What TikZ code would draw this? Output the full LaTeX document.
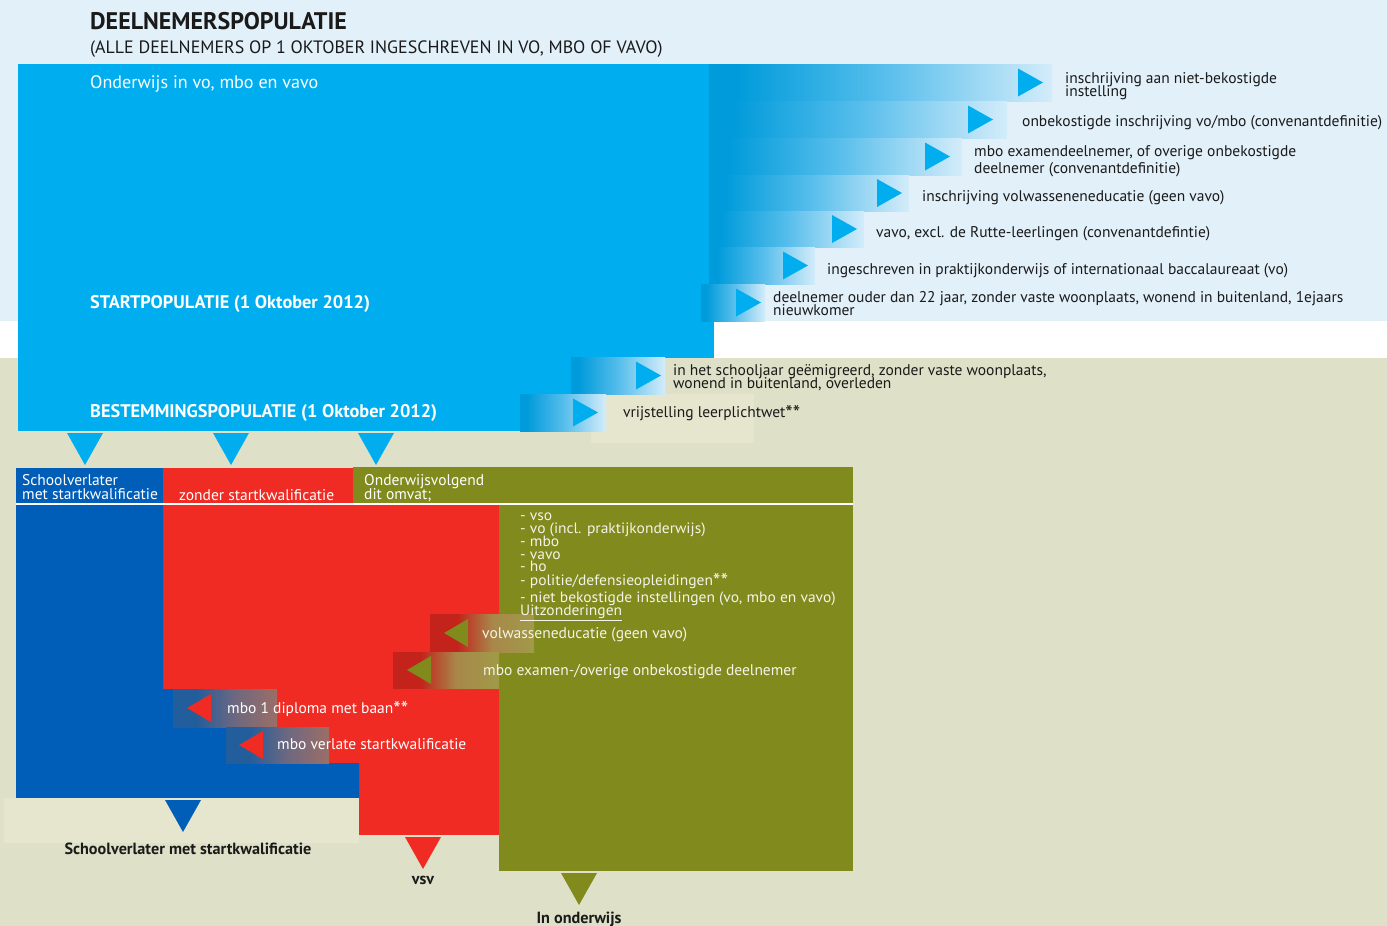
\documentclass[tikz,border=0pt]{standalone}
\usepackage{fontspec}
\setmainfont{PT Sans}
\newfontfamily\listfont{PT Sans}[FakeStretch=1.035]
\definecolor{topbg}{HTML}{E2F0FA}
\definecolor{botbg}{HTML}{DEE1C7}
\definecolor{cyanb}{HTML}{00AEEF}
\definecolor{bandL}{HTML}{009BDB}
\definecolor{bandM}{HTML}{55BDEB}
\definecolor{bandR}{HTML}{D3ECFA}
\definecolor{dblue}{HTML}{005EB8}
\definecolor{redc}{HTML}{EF2B24}
\definecolor{olivec}{HTML}{808A1D}
\definecolor{beigec}{HTML}{E6E6CF}
\definecolor{dkred}{HTML}{C3231B}
\definecolor{tanM}{HTML}{A8884A}
\definecolor{tanR}{HTML}{A09A48}
\definecolor{dkblue}{HTML}{225D9C}
\definecolor{brM}{HTML}{6E6880}
\definecolor{brR}{HTML}{9C6E66}
\definecolor{listtxt}{HTML}{F4F4E8}
\definecolor{ink}{HTML}{1A1A1A}
\pgfdeclarehorizontalshading{bluefade}{100bp}{color(0bp)=(bandL); color(25bp)=(bandL); color(29bp)=(bandL); color(50bp)=(bandM); color(75bp)=(bandR); color(100bp)=(bandR)}
\pgfdeclarehorizontalshading{redfade}{100bp}{color(0bp)=(dkred); color(25bp)=(dkred); color(38bp)=(dkred); color(55bp)=(tanM); color(75bp)=(tanR); color(100bp)=(tanR)}
\pgfdeclarehorizontalshading{bluebrown}{100bp}{color(0bp)=(dkblue); color(25bp)=(dkblue); color(36bp)=(dkblue); color(55bp)=(brM); color(75bp)=(brR); color(100bp)=(brR)}
\newcommand{\bandbox}[5]{%
  \fill[shading=bluefade] (#1,#2) rectangle (#3,#4);
  \fill[cyanb] (#5,{(#2+#4)/2-14}) -- ({#5+25},{(#2+#4)/2}) -- (#5,{(#2+#4)/2+14}) -- cycle;}
\newcommand{\leftbox}[7]{%
  \fill[shading=#6] (#1,#2) rectangle (#3,#4);
  \fill[#7] (#5,{(#2+#4)/2}) -- ({#5+24},{(#2+#4)/2-14}) -- ({#5+24},{(#2+#4)/2+14}) -- cycle;}
\newcommand{\downtri}[3]{\fill[#3] ({#1-18},#2) -- ({#1+18},#2) -- (#1,{#2+32}) -- cycle;}
\newcommand{\stars}{\smash{\raisebox{-0.45ex}{\fontsize{21}{21}\selectfont **}}}
\begin{document}
\begin{tikzpicture}[x=1pt,y=-1pt,
  txt/.style={anchor=base west, inner sep=0pt, text=ink, font=\fontsize{15.5}{16}\selectfont},
  wtxt/.style={txt, text=white},
  ltxt/.style={txt, text=listtxt},
  lst/.style={anchor=base west, inner sep=0pt, text=listtxt, font=\listfont\fontsize{15}{15}\selectfont},
  hd/.style={anchor=base west, inner sep=0pt, text=white, font=\fontsize{18.3}{19}\bfseries\selectfont},
  bt/.style={anchor=base, inner sep=0pt, text=ink, font=\fontsize{16.2}{17}\bfseries\selectfont}]
\useasboundingbox (0,0) rectangle (1387,926);
% backgrounds
\fill[topbg] (0,0) rectangle (1387,321);
\fill[white] (0,321) rectangle (1387,358);
\fill[botbg] (0,358) rectangle (1387,926);
% main population box
\fill[cyanb] (18,64) rectangle (714,358);
\fill[cyanb] (18,358) rectangle (571,431);
% outflow bands
\bandbox{709}{64}{1052}{101}{1018}
\bandbox{709}{101}{1007}{138}{968}
\bandbox{709}{138}{962}{175}{925}
\bandbox{709}{175}{909}{211}{877}
\bandbox{709}{211}{864}{247}{832}
\bandbox{709}{247}{815}{284}{783}
\bandbox{701}{284}{765}{321}{736}
\fill[beigec] (591,394) rectangle (754,443);
\bandbox{571}{357}{665}{394}{636}
\bandbox{520}{394}{606}{431}{573}
% down arrows
\downtri{85}{433}{cyanb}
\downtri{231}{433}{cyanb}
\downtri{376}{433}{cyanb}
% columns
\fill[dblue] (16,468) rectangle (163,504);
\fill[redc] (163,468) rectangle (353,504);
\fill[olivec] (353,467) rectangle (853,504);
\fill[olivec] (499,504) rectangle (853,871);
\fill[redc] (163,504) rectangle (499,835);
\fill[dblue] (16,504) -- (163,504) -- (163,689) -- (173,689) -- (173,727) -- (226,727) -- (226,763) -- (359,763) -- (359,798) -- (16,798) -- cycle;
\draw[white, line width=1.5pt] (16,504) -- (853,504);
\fill[beigec] (4,798) rectangle (359,843);
% inflow/outflow arrows inside columns
\leftbox{430}{614}{534}{652}{444}{redfade}{olivec}
\leftbox{393}{652}{499}{688}{407}{redfade}{olivec}
\leftbox{173}{689}{277}{727}{187}{bluebrown}{redc}
\leftbox{226}{727}{329}{763}{239}{bluebrown}{redc}
% bottom arrows
\downtri{183}{800}{dblue}
\downtri{423}{837}{redc}
\downtri{579}{873}{olivec}
% texts top
\node[anchor=base west, inner sep=0pt, text=ink, font=\fontsize{24}{25}\bfseries\selectfont] (title) at (90,29) {DEELNEMERSPOPULATIE};
\node[anchor=base west, inner sep=0pt, text=ink, font=\fontsize{17.9}{18}\selectfont] (subtitle) at (90,53) {(ALLE DEELNEMERS OP 1 OKTOBER INGESCHREVEN IN VO, MBO OF VAVO)};
\node[anchor=base west, inner sep=0pt, text=white, font=\fontsize{18.1}{19}\selectfont] (ond) at (90,88) {Onderwijs in vo, mbo en vavo};
\node[hd] (start) at (90,308) {STARTPOPULATIE (1 Oktober 2012)};
\node[hd] (best) at (90,417) {BESTEMMINGSPOPULATIE (1 Oktober 2012)};
% band labels
\node[txt] (b1a) at (1065,83) {inschrijving aan niet-bekostigde};
\node[txt] (b1b) at (1065,96) {instelling};
\node[txt] (b2) at (1022,126) {onbekostigde inschrijving vo/mbo (convenantdefinitie)};
\node[txt] (b3a) at (974,156) {mbo examendeelnemer, of overige onbekostigde};
\node[txt] (b3b) at (974,173) {deelnemer (convenantdefinitie)};
\node[txt] (b4) at (922,201) {inschrijving volwasseneneducatie (geen vavo)};
\node[txt] (b5) at (876,237) {vavo, excl. de Rutte-leerlingen (convenantdefintie)};
\node[txt] (b6) at (827,274) {ingeschreven in praktijkonderwijs of internationaal baccalaureaat (vo)};
\node[txt] (b7a) at (773,302) {deelnemer ouder dan 22 jaar, zonder vaste woonplaats, wonend in buitenland, 1ejaars};
\node[txt] (b7b) at (773,315) {nieuwkomer};
\node[txt] (b8a) at (673,375) {in het schooljaar geëmigreerd, zonder vaste woonplaats,};
\node[txt] (b8b) at (673,388) {wonend in buitenland, overleden};
\node[txt] (b9) at (623,417) {vrijstelling leerplichtwet\stars};
% headers
\node[wtxt] (h1a) at (22,485) {Schoolverlater};
\node[wtxt] (h1b) at (22,499) {met startkwalificatie};
\node[wtxt] (h2) at (179,500) {zonder startkwalificatie};
\node[wtxt] (h3a) at (364,485) {Onderwijsvolgend};
\node[wtxt] (h3b) at (364,499) {dit omvat;};
% list
\node[lst] (l1) at (520,520) {- vso};
\node[lst] (l2) at (520,533) {- vo (incl. praktijkonderwijs)};
\node[lst] (l3) at (520,546) {- mbo};
\node[lst] (l4) at (520,559) {- vavo};
\node[lst] (l5) at (520,571.5) {- ho};
\node[lst] (l6) at (520,585) {- politie/defensieopleidingen\stars};
\node[lst] (l7) at (520,602) {- niet bekostigde instellingen (vo, mbo en vavo)};
\node[lst] (l8) at (520,615.5) {\underline{Uitzonderingen}};
% arrow labels
\node[ltxt] (r1) at (482,638) {volwasseneducatie (geen vavo)};
\node[ltxt] (r2) at (483,675) {mbo examen-/overige onbekostigde deelnemer};
\node[wtxt] (s1) at (227,713) {mbo 1 diploma met baan\stars};
\node[wtxt] (s2) at (277,749) {mbo verlate startkwalificatie};
% bottom labels
\node[bt] (o1) at (188,854) {Schoolverlater met startkwalificatie};
\node[bt] (o2) at (423,884) {vsv};
\node[bt] (o3) at (579,923) {In onderwijs};
\end{tikzpicture}
\end{document}
